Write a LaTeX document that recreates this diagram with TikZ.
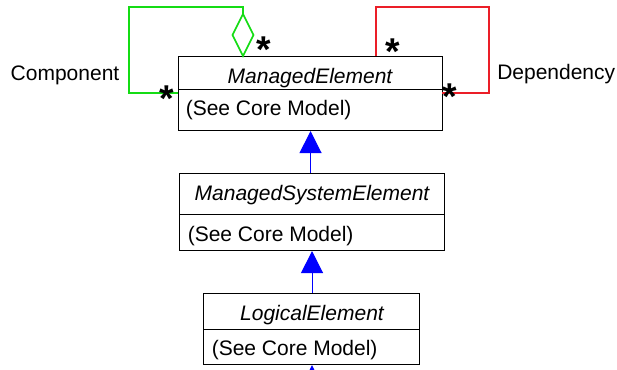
\documentclass[tikz,border=0pt]{standalone}
\usepackage{fontspec}
\setmainfont{Liberation Sans}
\usetikzlibrary{arrows.meta}
\definecolor{mygreen}{RGB}{20,220,20}
\definecolor{myred}{RGB}{235,30,40}
\definecolor{myblue}{RGB}{0,0,255}
\tikzset{
  comp/.style={draw=black, line width=0.8pt, rectangle, inner sep=0pt, anchor=north west},
  title/.style={inner sep=0pt, anchor=base, font=\fontsize{15.75}{18}\selectfont\itshape},
  body/.style={inner sep=0pt, anchor=base west, font=\fontsize{15.75}{18}\selectfont},
  lbl/.style={inner sep=0pt, font=\fontsize{15.75}{18}\selectfont},
  mult/.style={inner sep=0pt, anchor=base, font=\fontsize{28}{30}\selectfont\bfseries},
  inherit/.style={draw=myblue, line width=0.8pt, -{Triangle[width=16.5pt,length=16.5pt,fill=myblue]}},
  assoc/.style={line width=1.2pt}
}
\begin{document}
\begin{tikzpicture}[x=0.75pt,y=-0.75pt]
\useasboundingbox (0,0) rectangle (617,369);
\begin{scope}
\clip (0,0) rectangle (617,369);
% boxes
\node[comp, minimum width={264*0.75pt}, minimum height={33*0.75pt}] (meT) at (178,56) {};
\node[comp, minimum width={264*0.75pt}, minimum height={41*0.75pt}] (meB) at (178,89) {};
\node[comp, minimum width={265*0.75pt}, minimum height={41*0.75pt}] (mseT) at (179,173) {};
\node[comp, minimum width={265*0.75pt}, minimum height={36*0.75pt}] (mseB) at (179,214) {};
\node[comp, minimum width={216*0.75pt}, minimum height={36*0.75pt}] (leT) at (203,293) {};
\node[comp, minimum width={216*0.75pt}, minimum height={35*0.75pt}] (leB) at (203,329) {};
% texts
\node[title] (meTitle) at (310,83) {ManagedElement};
\node[body] (meBody) at (185.5,115) {(See Core Model)};
\node[title] (mseTitle) at (312,200) {ManagedSystemElement};
\node[body] (mseBody) at (187.5,241.5) {(See Core Model)};
\node[title] (leTitle) at (312,320) {LogicalElement};
\node[body] (leBody) at (211.5,355) {(See Core Model)};
% inheritance
\draw[inherit] (mseT.north -| meB.south) -- (meB.south);
\draw[inherit] (leT.north -| mseB.south) -- (mseB.south);
\coordinate (below) at (312,400);
\draw[inherit] (below) -- (below |- leB.south);
% Component association (green)
\coordinate (gA) at (178,93);
\coordinate (gL) at (129,7);
\coordinate (dtop) at (243,14);
\coordinate (dright) at (253.5,35);
\coordinate (dbot) at (243,56);
\coordinate (dleft) at (232.5,35);
\draw[assoc, mygreen] (gA) -| (gL) -| (dtop);
\draw[assoc, mygreen, line join=miter] (dtop) -- (dright) -- (dbot) -- (dleft) -- cycle;
% Dependency association (red)
\coordinate (rA) at (376,56);
\coordinate (rR) at (489,7);
\coordinate (rB) at (442,93);
\draw[assoc, myred] (rA) |- (rR) |- (rB);
% labels
\node[lbl] (comp) at (65,75) {Component};
\node[lbl, anchor=west] (dep) at (497,74) {Dependency};
% multiplicities
\node[mult] (m1) at (167,111) {*};
\node[mult] (m2) at (263.5,62) {*};
\node[mult] (m3) at (393,64.5) {*};
\node[mult] (m4) at (450,109.5) {*};
\end{scope}
\end{tikzpicture}
\end{document}
